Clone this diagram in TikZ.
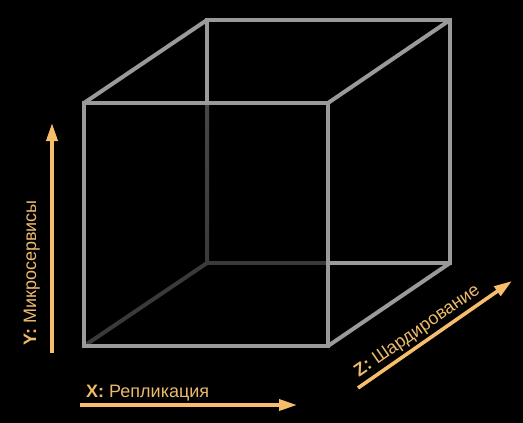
\documentclass[tikz,border=0pt]{standalone}
\usepackage{fontspec}
\setmainfont{Liberation Sans}
\usetikzlibrary{arrows.meta}
\definecolor{edgegray}{HTML}{9A9A9A}
\definecolor{hiddengray}{HTML}{3A3A3A}
\definecolor{axisorange}{HTML}{F6BE6C}
\definecolor{labelorange}{HTML}{EDBA6C}
\tikzset{
  visedge/.style={draw=edgegray, line width=4pt, line cap=butt, line join=miter},
  hidedge/.style={draw=hiddengray, line width=4pt, line cap=butt},
  axisarrow/.style={draw=axisorange, line width=3.6pt, -{Triangle[length=18pt,width=11pt]}},
  axislabel/.style={text=labelorange, inner sep=0pt, font=\fontsize{18}{21}\selectfont},
}
\begin{document}
\begin{tikzpicture}[x=1pt,y=-1pt]
\useasboundingbox (0,0) rectangle (523,423);
\fill[black] (0,0) rectangle (523,423);
% cube corners
\coordinate (ftl) at (84,103);
\coordinate (ftr) at (328,103);
\coordinate (fbl) at (84,346);
\coordinate (fbr) at (328,346);
\coordinate (btl) at (207,20);
\coordinate (btr) at (450,20);
\coordinate (bbl) at (207,263);
\coordinate (bbr) at (450,263);
\coordinate (bbm) at (328,263);
\coordinate (blm) at (207,103);
% hidden edges
\shade[top color=gray!55!black, bottom color=hiddengray] (205,103) rectangle (209,263);
\draw[hidedge] (fbl) -- (bbl);
\draw[hidedge] (bbl) -- (bbm);
% visible edges
\draw[visedge] (blm) -- (btl) -- (btr) -- (bbr) -- (bbm);
\draw[visedge] (ftl) -- (btl);
\draw[visedge] (ftr) -- (btr);
\draw[visedge] (fbr) -- (bbr);
\draw[visedge] (ftl) -- (ftr) -- (fbr) -- (fbl) -- cycle;
% axes
\coordinate (ys) at (52,353);
\coordinate (ye) at (52,123);
\coordinate (xs) at (80,405);
\coordinate (xe) at (297,405);
\coordinate (zs) at (358,388);
\coordinate (ze) at (512,281);
\draw[axisarrow] (ys) -- (ye);
\draw[axisarrow] (xs) -- (xe);
\draw[axisarrow] (zs) -- (ze);
\node[axislabel, rotate=90, anchor=base] (ylab) at (36,273) {\textbf{Y:} Микросервисы};
\node[axislabel, anchor=base west] (xlab) at (86,397) {\textbf{X:} Репликация};
\node[axislabel, rotate=34.8, anchor=base] (zlab) at (420,335) {\textbf{Z:} Шардирование};
\end{tikzpicture}
\end{document}
